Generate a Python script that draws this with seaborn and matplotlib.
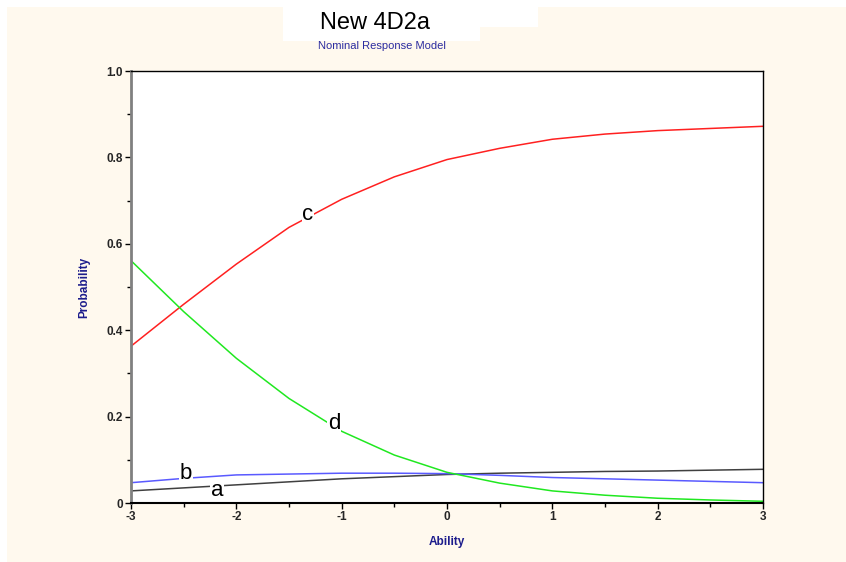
import numpy as np
import pandas as pd
import matplotlib
matplotlib.use("Agg")
import matplotlib.pyplot as plt
import seaborn as sns
from matplotlib.patches import Rectangle
from matplotlib.ticker import MultipleLocator, FixedLocator, FixedFormatter

# ---- data ----
ability = [-3, -2.5, -2, -1.5, -1, -0.5, 0, 0.5, 1, 1.5, 2, 2.5, 3]
prob_a = [0.028, 0.035, 0.042, 0.049, 0.056, 0.061, 0.066, 0.069, 0.071, 0.073, 0.074, 0.076, 0.078]
prob_b = [0.047, 0.057, 0.065, 0.067, 0.069, 0.069, 0.068, 0.064, 0.059, 0.056, 0.053, 0.050, 0.047]
prob_c = [0.363, 0.460, 0.553, 0.638, 0.703, 0.755, 0.795, 0.821, 0.842, 0.854, 0.862, 0.867, 0.872]
prob_d = [0.561, 0.443, 0.335, 0.242, 0.166, 0.111, 0.071, 0.046, 0.028, 0.018, 0.011, 0.007, 0.004]
categories = ["a", "b", "c", "d"]
x_ticks = [-3, -2, -1, 0, 1, 2, 3]
x_tick_labels = ["-3", "-2", "-1", "0", "1", "2", "3"]
y_ticks = [0, 0.2, 0.4, 0.6, 0.8, 1.0]
y_tick_labels = ["0", "0.2", "0.4", "0.6", "0.8", "1.0"]
label_pos = {"a": (-2.18, 0.030), "b": (-2.48, 0.069), "c": (-1.32, 0.667), "d": (-1.07, 0.183)}

df = pd.DataFrame({
    "Ability": ability * 4,
    "Probability": prob_a + prob_b + prob_c + prob_d,
    "cat": sum([[c] * len(ability) for c in categories], []),
})

sns.set_style("white")
plt.rcParams["font.family"] = ["Liberation Sans", "DejaVu Sans"]

fig = plt.figure(figsize=(8.46, 5.62), dpi=100)
fig.patch.set_facecolor("white")
W, H = 846, 562
cream = "#FFF9EE"
fig.patches.append(Rectangle((7 / W, 0), 1, 1 - 7 / H, transform=fig.transFigure,
                             facecolor=cream, edgecolor="none", zorder=-3))
# white patches behind title
fig.patches.append(Rectangle((283 / W, 1 - 27 / H), (538 - 283) / W, 20 / H,
                             transform=fig.transFigure, facecolor="white", edgecolor="none", zorder=-2))
fig.patches.append(Rectangle((283 / W, 1 - 41 / H), (480 - 283) / W, 15 / H,
                             transform=fig.transFigure, facecolor="white", edgecolor="none", zorder=-2))

ax = fig.add_axes([131 / W, 1 - 503 / H, (763 - 131) / W, (503 - 71) / H])
ax.set_zorder(1)
ax.set_facecolor("white")

palette = {"a": "#404040", "b": "#5a5aff", "c": "#ff2020", "d": "#20e820"}
sns.lineplot(data=df, x="Ability", y="Probability", hue="cat", palette=palette,
             linewidth=1.1, legend=False, ax=ax)

for c in categories:
    x, y = label_pos[c]
    ax.text(x, y, c, fontsize=16, ha="center", va="center", color="black",
            bbox=dict(facecolor="white", edgecolor="none", pad=0.5), zorder=5)

ax.set_xlim(-3, 3)
ax.set_ylim(0, 1.0)
ax.xaxis.set_major_locator(FixedLocator(x_ticks))
ax.xaxis.set_major_formatter(FixedFormatter(x_tick_labels))
ax.xaxis.set_minor_locator(MultipleLocator(0.5))
ax.yaxis.set_major_locator(FixedLocator(y_ticks))
ax.yaxis.set_major_formatter(FixedFormatter(y_tick_labels))
ax.yaxis.set_minor_locator(MultipleLocator(0.1))
ax.tick_params(which="both", direction="out", bottom=True, left=True, top=False, right=False,
               width=1, color="black")
ax.tick_params(which="major", length=4, labelsize=8.5, pad=2)
ax.tick_params(which="minor", length=3)
for lab in ax.get_xticklabels() + ax.get_yticklabels():
    lab.set_fontweight("bold")

for s in ["top", "right"]:
    ax.spines[s].set_color("black")
    ax.spines[s].set_linewidth(1.0)
ax.spines["left"].set_color("#808080")
ax.spines["left"].set_linewidth(2)
ax.spines["bottom"].set_color("black")
ax.spines["bottom"].set_linewidth(1.5)

ax.set_xlabel("Ability", fontsize=8.5, fontweight="bold", color="#1c1c8c")
ax.set_ylabel("Probability", fontsize=8.5, fontweight="bold", color="#1c1c8c")
ax.xaxis.set_label_coords(0.5, -0.076)
ax.yaxis.set_label_coords(-0.065, 0.5)

fig.text(375 / W, 1 - 23 / H, "New 4D2a", fontsize=17, ha="center", va="center", color="black", zorder=3)
fig.text(382 / W, 1 - 46 / H, "Nominal Response Model", fontsize=8, ha="center", va="center",
         color="#2c2ca0", zorder=3)

fig.savefig("out.png", dpi=100, facecolor=fig.get_facecolor())
